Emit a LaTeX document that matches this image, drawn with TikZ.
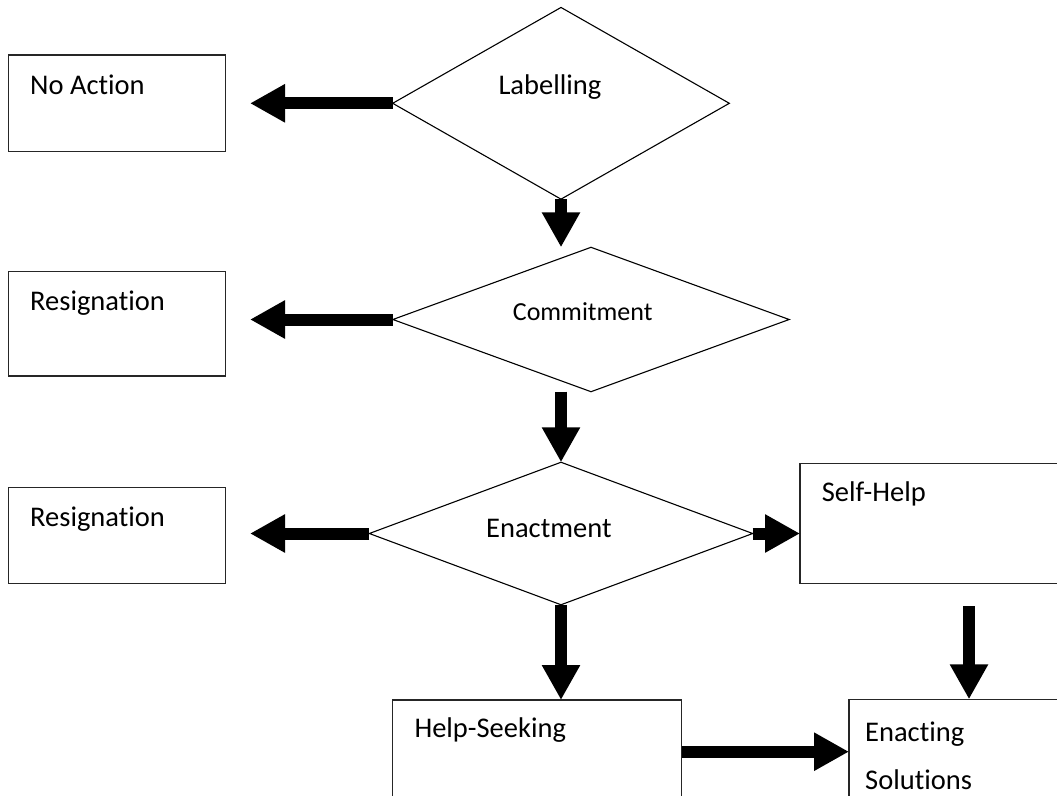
\documentclass[tikz,border=0pt]{standalone}
\usepackage{fontspec}
\setmainfont{Carlito}[Ligatures=NoCommon]
\usetikzlibrary{arrows.meta,shapes.geometric}
\begin{document}
\begin{tikzpicture}[x=1pt,y=-1pt,
  box/.style={draw=black!85, line width=1.5pt, rectangle, inner sep=0pt, outer sep=0pt, anchor=north west},
  dia/.style={draw=black, line width=1.1pt, diamond, inner sep=0pt, outer sep=0pt},
  lbl/.style={anchor=base west, inner sep=0pt, font=\fontsize{28.5}{34}\selectfont},
  bigarrow/.style={line width=12pt, -{Triangle[length=35pt,width=36pt]}}]
\useasboundingbox (0,0) rectangle (1057,795);
\clip (0,0) rectangle (1057,795);
% boxes
\node[box, minimum width=217.4pt, minimum height=96.7pt] (noact) at (8.3,55) {};
\node[box, minimum width=217.4pt, minimum height=104.3pt] (res1) at (8.3,271.7) {};
\node[box, minimum width=217.4pt, minimum height=96pt] (res2) at (8.3,487.3) {};
\node[box, minimum width=300pt, minimum height=120pt] (self) at (800,463.3) {};
\node[box, minimum width=289pt, minimum height=103.4pt] (hseek) at (392.7,700) {};
\node[box, minimum width=300pt, minimum height=120pt] (enact) at (849,699.3) {};
% diamonds
\node[dia, minimum width=336.6pt, minimum height=191.7pt] (lab) at (561,103.3) {};
\node[dia, minimum width=396.3pt, minimum height=144.4pt] (com) at (591,319.5) {};
\node[dia, minimum width=383.4pt, minimum height=142.5pt] (enc) at (561,533.5) {};
% texts
\node[lbl] (tNo) at (30,94) {No Action};
\node[lbl] (tRes1) at (30,310.7) {Resignation};
\node[lbl] (tRes2) at (30,526.3) {Resignation};
\node[lbl] (tLab) at (498.3,94) {Labelling};
\node[lbl, font=\fontsize{26}{31}\selectfont] (tCom) at (512.7,320) {Commitment};
\node[lbl] (tEnc) at (486,537.3) {Enactment};
\node[lbl] (tSelf) at (821.7,501.7) {Self-Help};
\node[lbl] (tHS) at (414.3,737.7) {Help-Seeking};
\node[lbl] (tEA) at (865,741.7) {Enacting};
\node[lbl] (tSol) at (865,789.3) {Solutions};
% arrows
\coordinate (aNo) at (250,103.3);
\coordinate (aRes1) at (250,319.5);
\coordinate (aRes2) at (250,533.5);
\coordinate (sTop) at (969,606);
\draw[bigarrow] (lab.west) -- (aNo);
\draw[bigarrow] (lab.south) -- (lab.south |- com.north);
\draw[bigarrow] (com.west) -- (aRes1);
\draw[bigarrow] (com.south -| enc.north) -- (enc.north);
\draw[bigarrow] (enc.west) -- (aRes2);
\draw[bigarrow] (enc.east) -- (enc.east -| self.west);
\draw[bigarrow] (enc.south) -- (enc.south |- hseek.north);
\draw[bigarrow] (sTop) -- (sTop |- enact.north);
\draw[bigarrow] (hseek.east) -- (hseek.east -| enact.west);
\end{tikzpicture}
\end{document}
